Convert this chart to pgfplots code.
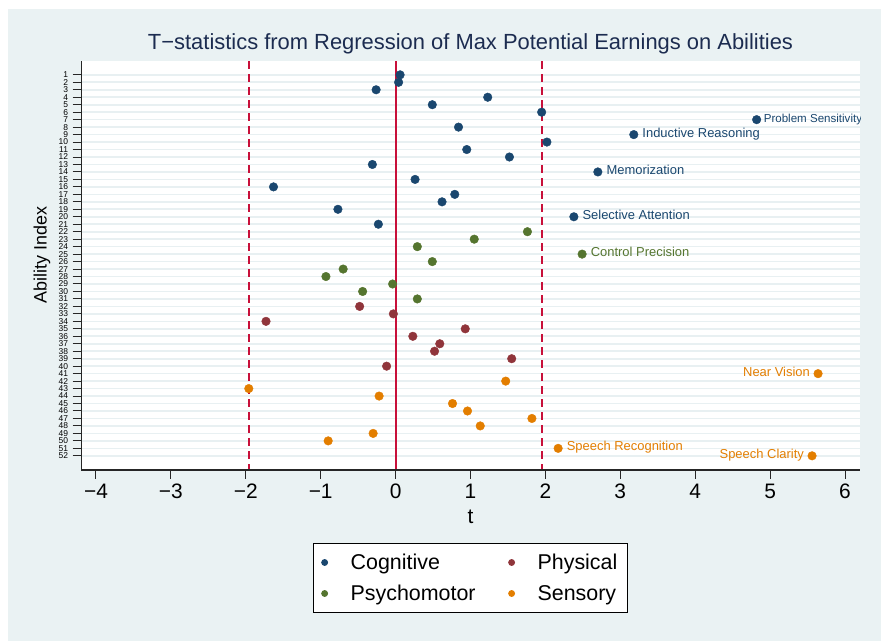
\documentclass[border=0pt]{standalone}
\usepackage{pgfplots}
\pgfplotsset{compat=1.18}
\usepackage{fontspec}
\setmainfont{Liberation Sans}

\definecolor{bgc}{RGB}{234,242,243}
\definecolor{gridc}{RGB}{232,240,242}
\definecolor{cogn}{RGB}{26,71,111}
\definecolor{psych}{RGB}{85,117,47}
\definecolor{phys}{RGB}{144,53,59}
\definecolor{sens}{RGB}{227,126,0}
\definecolor{refred}{RGB}{200,16,58}
\definecolor{titlec}{RGB}{28,44,80}

\begin{document}
\begin{tikzpicture}
\path[use as bounding box, fill=white] (0,0) rectangle (881bp,-641bp);
\fill[bgc] (8bp,-9bp) rectangle (881bp,-641bp);
\begin{axis}[
    at={(81bp,-470bp)}, anchor=south west,
    scale only axis, width=779bp, height=409bp,
    xmin=-4.2, xmax=6.2, ymin=-0.85, ymax=53.9,
    y dir=reverse,
    axis background/.style={fill=white},
    axis line style={draw=none},
    /pgf/number format/assume math mode=true,
    tick align=outside,
    xtick pos=left, ytick pos=left,
    xtick={-4,...,6},
    xticklabels={−4,−3,−2,−1,0,1,2,3,4,5,6},
    ytick={1,...,52},
    major tick length=8.5bp,
    x tick label style={font=\fontsize{21}{21}\selectfont, yshift=-2bp},
    y tick label style={font=\fontsize{8.5}{8.5}\selectfont, xshift=-1bp},
    every tick/.style={black!85, line width=1bp},
    ymajorgrids, xmajorgrids=false,
    major grid style={gridc, line width=1.6bp},
    title={T−statistics from Regression of Max Potential Earnings on Abilities},
    title style={at={(axis description cs:0.5,1.013)}, anchor=base,
        font=\fontsize{22}{26}\selectfont, text=titlec},
    xlabel={t},
    xlabel style={at={(axis description cs:0.5,-0.13)}, anchor=base,
        font=\fontsize{21}{24}\selectfont},
    ylabel={Ability Index},
    ylabel style={at={(axis description cs:-0.05,0.526)}, anchor=center,
        font=\fontsize{18}{20}\selectfont},
    legend columns=2,
    legend cell align=left,
    legend image code/.code={\draw[#1, mark size=3bp] plot coordinates {(0cm,0cm)};},
    legend style={at={(axis description cs:0.5,-0.264)}, anchor=center,
        draw=black, line width=0.8bp, fill=white,
        font=\fontsize{21.5}{24}\selectfont,
        inner xsep=8bp, inner ysep=8.5bp, row sep=10bp,
        /tikz/every odd column/.append style={column sep=21bp},
        /tikz/every even column/.append style={column sep=31bp}},
]

% reference lines at t = 0 and +-1.96
\addplot[draw=refred, line width=1.9bp, forget plot] coordinates {(0,-0.85) (0,53.9)};
\addplot[draw=refred, line width=1.9bp, dash pattern=on 8bp off 5bp, forget plot] coordinates {(-1.96,-0.85) (-1.96,53.9)};
\addplot[draw=refred, line width=1.9bp, dash pattern=on 8bp off 5bp, forget plot] coordinates {(1.96,-0.85) (1.96,53.9)};

% Cognitive (1-21)
\addplot[only marks, mark=*, mark size=4.3bp, cogn, mark options={fill=cogn, draw=cogn}] coordinates {
(0.06,1) (0.04,2) (-0.26,3) (1.23,4) (0.49,5) (1.95,6) (4.82,7) (0.84,8) (3.18,9) (2.02,10)
(0.95,11) (1.52,12) (-0.31,13) (2.70,14) (0.26,15) (-1.63,16) (0.79,17) (0.62,18) (-0.77,19) (2.38,20) (-0.23,21)};
\addlegendentry{Cognitive}

% Physical (32-40)
\addplot[only marks, mark=*, mark size=4.3bp, phys, mark options={fill=phys, draw=phys}] coordinates {
(-0.48,32) (-0.03,33) (-1.73,34) (0.93,35) (0.23,36) (0.59,37) (0.52,38) (1.55,39) (-0.12,40)};
\addlegendentry{Physical}

% Psychomotor (22-31)
\addplot[only marks, mark=*, mark size=4.3bp, psych, mark options={fill=psych, draw=psych}] coordinates {
(1.76,22) (1.05,23) (0.29,24) (2.49,25) (0.49,26) (-0.70,27) (-0.93,28) (-0.04,29) (-0.44,30) (0.29,31)};
\addlegendentry{Psychomotor}

% Sensory (41-52)
\addplot[only marks, mark=*, mark size=4.3bp, sens, mark options={fill=sens, draw=sens}] coordinates {
(5.64,41) (1.47,42) (-1.96,43) (-0.22,44) (0.76,45) (0.96,46) (1.82,47) (1.13,48) (-0.30,49) (-0.90,50) (2.17,51) (5.56,52)};
\addlegendentry{Sensory}

% labels of the largest t-statistics
\begin{scope}[every node/.style={font=\fontsize{13}{15}\selectfont, inner sep=1bp}]
\node[anchor=mid west, text=cogn, xshift=6bp, font=\fontsize{11.6}{14}\selectfont] at (axis cs:4.82,7) {Problem Sensitivity};
\node[anchor=mid west, text=cogn, xshift=7.5bp] at (axis cs:3.18,9) {Inductive Reasoning};
\node[anchor=mid west, text=cogn, xshift=7.5bp] at (axis cs:2.70,14) {Memorization};
\node[anchor=mid west, text=cogn, xshift=7.5bp] at (axis cs:2.38,20) {Selective Attention};
\node[anchor=mid west, text=psych, xshift=7.5bp] at (axis cs:2.49,25) {Control Precision};
\node[anchor=mid east, text=sens, xshift=-7bp] at (axis cs:5.64,41) {Near Vision};
\node[anchor=mid west, text=sens, xshift=7.5bp] at (axis cs:2.17,51) {Speech Recognition};
\node[anchor=mid east, text=sens, xshift=-7bp] at (axis cs:5.56,52) {Speech Clarity};
\end{scope}

% axis lines (left and bottom only)
\draw[black!85, line width=1.2bp] (axis description cs:0,1) -- (axis description cs:0,0) -- (axis description cs:1,0);
\end{axis}
\end{tikzpicture}
\end{document}
